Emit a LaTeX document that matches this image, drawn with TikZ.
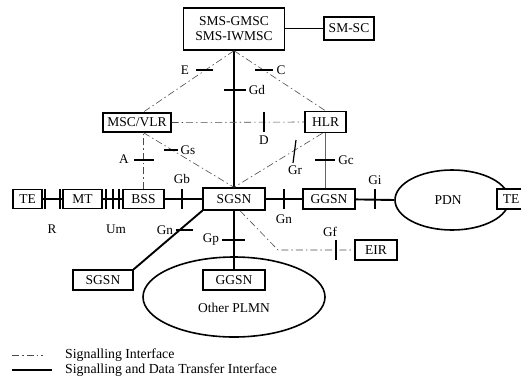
\documentclass[tikz,border=0pt]{standalone}
\usepackage{fontspec}
\setmainfont{Liberation Serif}
\usetikzlibrary{shapes.geometric,calc}
\begin{document}
\begin{tikzpicture}[x=1pt,y=-1pt,
  box/.style={draw, line width=1.4pt, fill=white, inner sep=0pt, font=\fontsize{13.5}{15}\selectfont},
  lbl/.style={font=\fontsize{13.2}{15}\selectfont, inner sep=0pt},
  sig/.style={draw=black!70, line width=0.6pt, dash pattern=on 7pt off 3pt on 1.5pt off 3pt},
  dat/.style={line width=1.9pt},
  thinsolid/.style={draw=black!60, line width=0.7pt},
  tick/.style={line width=1.2pt},
  oval/.style={draw, ellipse, line width=1.6pt, inner sep=0pt}]
\useasboundingbox (0,0) rectangle (521,378);
\clip (0,0) rectangle (521,378);
% ellipses
\node[oval, minimum width=114, minimum height=60] (pdn) at (452,200) {};
\node[lbl, font=\fontsize{13.5}{15}\selectfont] (pdnlbl) at (448,200) {PDN};
\node[oval, minimum width=182, minimum height=80] (plmn) at (234,297) {};
\node[lbl, font=\fontsize{13.5}{15}\selectfont] (plmnlbl) at (234,308) {Other PLMN};
% boxes
\node[box, minimum width=101, minimum height=42, align=center] (sms) at (234,29) {SMS-GMSC\\SMS-IWMSC};
\node[box, minimum width=50, minimum height=23] (smsc) at (349,28.5) {SM-SC};
\node[box, minimum width=68, minimum height=19] (msc) at (137,122.5) {MSC/VLR};
\node[box, minimum width=41, minimum height=21] (hlr) at (325.5,122) {HLR};
\node[box, minimum width=29, minimum height=19] (te) at (27.5,199) {TE};
\node[box, minimum width=39, minimum height=19] (mt) at (82.5,199) {MT};
\node[box, minimum width=41, minimum height=19] (bss) at (143.5,199) {BSS};
\node[box, minimum width=62, minimum height=22] (sgsn) at (234,199) {SGSN};
\node[box, minimum width=52, minimum height=20] (ggsn) at (329,199) {GGSN};
\node[box, minimum width=28, minimum height=20] (ter) at (511,199) {TE};
\node[box, minimum width=42, minimum height=20] (eir) at (376,250) {EIR};
\node[box, minimum width=60, minimum height=20] (sgsn2) at (103,280) {SGSN};
\node[box, minimum width=62, minimum height=20] (ggsn2) at (234,280) {GGSN};
% connectors
\draw[line width=1.2pt] (sms.east |- smsc) -- (smsc.west);
\draw[dat] (sms.south) -- (sgsn.north);
\draw[sig] (sms.south) -- ($(msc.north)+(6,0)$);
\draw[sig] (sms.south) -- (hlr.north);
\draw[sig] (msc.east) -- (hlr.west);
\coordinate (mscb) at (bss.north |- msc.south);
\draw[sig] (bss.north) -- (mscb);
\draw[sig] (mscb) -- (sgsn.north);
\draw[sig] ($(hlr.south)+(-3,0)$) -- (sgsn.north);
\draw[thinsolid] (hlr.south) -- (hlr.south |- ggsn.north);
\draw[dat] (te) -- (mt);
\draw[dat] (mt) -- (bss);
\draw[dat] (bss) -- (sgsn);
\draw[dat] (sgsn) -- (ggsn);
\draw[dat] (ggsn) -- (pdn.west);
\draw[dat] (sgsn.south west) -- (sgsn2.north east);
\draw[dat] (sgsn.south) -- (ggsn2.north);
\coordinate (bend) at (278,250);
\draw[sig] ($(sgsn.south)+(6,0)$) -- (bend) -- (eir.west);
% ticks
\foreach \x in {45,60,106,113,119,182,284,375} \draw[tick] (\x,189) -- (\x,209);
\draw[tick] (222,240) -- (245,240);
\draw[tick] (176,230) -- (193,230);
\draw[tick] (336,240) -- (336,260);
\draw[tick] (134,160) -- (154,160);
\draw[tick] (164,150) -- (178,150);
\draw[tick] (196,70) -- (213,70);
\draw[tick] (255,70) -- (273,70);
\draw[tick] (224,90) -- (246,90);
\draw[tick] (264,112) -- (264,132);
\draw[tick] (296,140) -- (293,163);
\draw[tick] (315,160) -- (335,160);
% labels
\node[lbl] (lE) at (185,70) {E};
\node[lbl] (lC) at (281,70) {C};
\node[lbl] (lGd) at (257,90) {Gd};
\node[lbl] (lD) at (264,140) {D};
\node[lbl] (lA) at (124,159) {A};
\node[lbl] (lGs) at (188,150) {Gs};
\node[lbl] (lGb) at (182,179) {Gb};
\node[lbl] (lGr) at (295,170) {Gr};
\node[lbl] (lGc) at (346,160) {Gc};
\node[lbl] (lGi) at (375,180) {Gi};
\node[lbl] (lGn) at (284,219) {Gn};
\node[lbl] (lGf) at (330,232) {Gf};
\node[lbl] (lGn2) at (165,230) {Gn};
\node[lbl] (lGp) at (211,240) {Gp};
\node[lbl] (lR) at (52,229) {R};
\node[lbl] (lUm) at (116,229) {Um};
% legend
\coordinate (l1a) at (12,355);
\coordinate (l1b) at (43,355);
\coordinate (l2a) at (12,370);
\coordinate (l2b) at (52,370);
\draw[sig] (l1a) -- (l1b);
\draw[dat] (l2a) -- (l2b);
\node[lbl, anchor=west, font=\fontsize{13.8}{15}\selectfont] (leg1) at (65,355) {Signalling Interface};
\node[lbl, anchor=west, font=\fontsize{13.8}{15}\selectfont] (leg2) at (65,370) {Signalling and Data Transfer Interface};
\end{tikzpicture}
\end{document}
